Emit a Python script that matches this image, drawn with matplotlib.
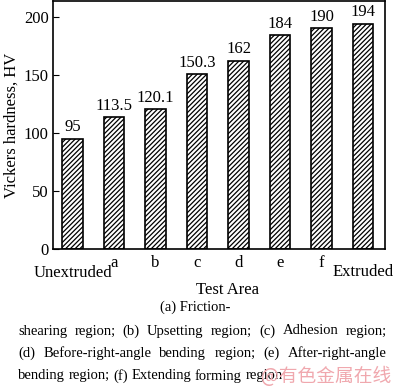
import matplotlib
matplotlib.use("Agg")
import matplotlib.pyplot as plt

categories = ["Unextruded", "a", "b", "c", "d", "e", "f", "Extruded"]
hardness = [95, 113.5, 120.1, 150.3, 162, 184, 190, 194]
value_labels = ["95", "113.5", "120.1", "150.3", "162", "184", "190", "194"]
yticks = [0, 50, 100, 150, 200]

plt.rcParams['font.family'] = ['Liberation Serif', 'DejaVu Serif']
plt.rcParams['hatch.linewidth'] = 0.9

fig = plt.figure(figsize=(4.0, 3.9), dpi=100)
ax = fig.add_axes([0.1325, 0.3615, 0.83, 0.636])

x = list(range(len(categories)))
ax.bar(x, hardness, width=0.5, color='white', edgecolor='black', hatch='///////', linewidth=1.2)
for xi, v, lab in zip(x, hardness, value_labels):
    ax.text(xi, v + 3, lab, ha='center', va='bottom', fontsize=12)

ax.set_xlim(-0.47, 7.53)
ax.set_ylim(0, 213.5)
ax.set_yticks(yticks)
ax.tick_params(axis='y', direction='in', length=4, labelsize=12, pad=3)
ax.set_xticks(x[1:-1])
ax.set_xticklabels(categories[1:-1], fontsize=12)
ax.tick_params(axis='x', length=0, pad=4)
ax.text(x[0], -14, categories[0], ha='center', va='top', fontsize=12, transform=ax.transData)
ax.text(x[-1], -12.5, categories[-1], ha='center', va='top', fontsize=12, transform=ax.transData)
ax.set_ylabel("Vickers hardness, HV", fontsize=12, labelpad=3)
for s in ax.spines.values():
    s.set_linewidth(1.2)

fig.text(228/400, 1 - 290/390, "Test Area", ha='center', va='center', fontsize=12)
fig.text(195/400, 1 - 307/390, "(a) Friction-", ha='center', va='center', fontsize=10.5)

fig.canvas.draw()
renderer = fig.canvas.get_renderer()

def justified(line, y_px, left=18, right=387, justify=True):
    words = line.split(" ")
    texts = []
    widths = []
    for w in words:
        t = fig.text(0, 0, w, fontsize=10.5, va='center', ha='left')
        bb = t.get_window_extent(renderer)
        texts.append(t)
        widths.append(bb.width)
    total = sum(widths)
    if justify and len(words) > 1:
        gap = (right - left - total) / (len(words) - 1)
    else:
        sp = fig.text(0, 0, "a a", fontsize=10.5)
        sp2 = fig.text(0, 0, "aa", fontsize=10.5)
        gap = sp.get_window_extent(renderer).width - sp2.get_window_extent(renderer).width
        sp.remove(); sp2.remove()
    xpos = left
    for t, w in zip(texts, widths):
        t.set_position((xpos / 400, 1 - y_px / 390))
        xpos += w + gap

justified("shearing region; (b) Upsetting region; (c) Adhesion region;", 331)
justified("(d) Before-right-angle bending region; (e) After-right-angle", 353)
justified("bending region; (f) Extending forming region", 376, justify=False)

fig.text(326/400, 1 - 376/390, "@有色金属在线", ha='center', va='center', fontsize=13.5,
         color='#f0a8ae', family=['Noto Sans CJK SC', 'DejaVu Sans'])

fig.savefig("out.png", dpi=100)
